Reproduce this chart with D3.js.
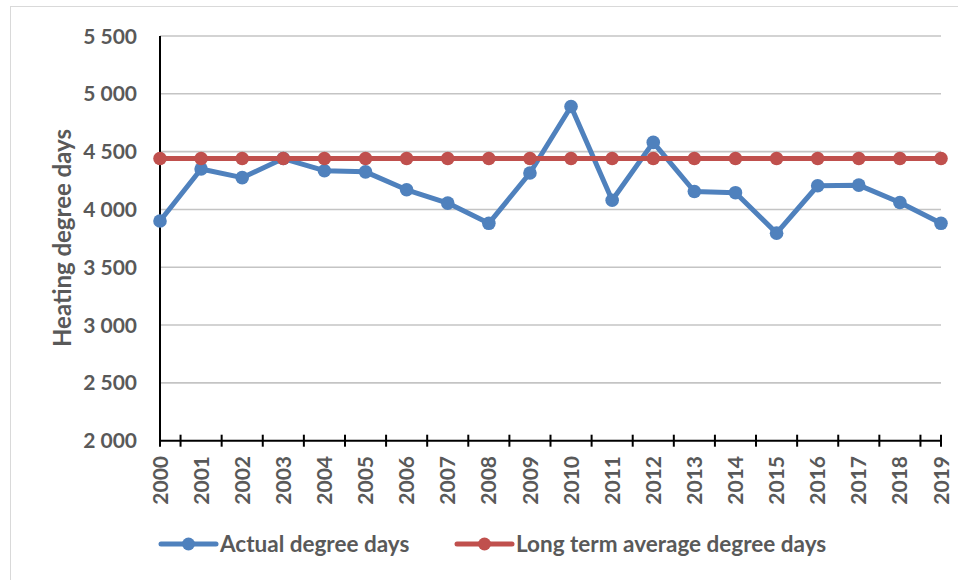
<!DOCTYPE html>
<html>
<head>
<meta charset="utf-8">
<script src="https://cdn.jsdelivr.net/npm/d3@7"></script>
<style>
  body { margin: 0; background: #fff; }
  text { font-family: Lato, "Open Sans", sans-serif; font-weight: 700; fill: #595959; }
</style>
</head>
<body>
<div id="chart"></div>
<script>
var years = ["2000", "2001", "2002", "2003", "2004", "2005", "2006", "2007", "2008", "2009",
	"2010", "2011", "2012", "2013", "2014", "2015", "2016", "2017", "2018", "2019"];
var actual_degree_days = [3900, 4350, 4275, 4440, 4335, 4325, 4170, 4055, 3880, 4315,
	4890, 4080, 4580, 4155, 4145, 3795, 4205, 4210, 4060, 3880];
var long_term_average = [4440, 4440, 4440, 4440, 4440, 4440, 4440, 4440, 4440, 4440,
	4440, 4440, 4440, 4440, 4440, 4440, 4440, 4440, 4440, 4440];
var y_ticks = [2000, 2500, 3000, 3500, 4000, 4500, 5000, 5500];
var series_names = ["Actual degree days", "Long term average degree days"];
var series_colours = ["#4f81bd", "#c0504d"];

var width = 958, height = 580;
var plot = { left: 160, right: 941, top: 36, bottom: 440.7 };

var svg = d3.select("#chart")
	.append("svg")
	.attr("width", width)
	.attr("height", height);

//chart border
svg.append("rect")
	.attr("x", 10.5)
	.attr("y", 6.5)
	.attr("width", width)
	.attr("height", height)
	.style("fill", "none")
	.style("stroke", "#d9d9d9")
	.style("stroke-width", 1);

var x = d3.scalePoint()
	.domain(years)
	.range([plot.left, plot.right]);

var y = d3.scaleLinear()
	.domain([2000, 5500])
	.range([plot.bottom, plot.top]);

var fmt = d3.formatLocale({ decimal: ",", thousands: " ", grouping: [3], currency: ["", ""] }).format(",");

//gridlines
svg.append("g")
	.selectAll("line")
	.data(y_ticks.slice(1))
	.enter()
	.append("line")
	.attr("x1", plot.left)
	.attr("x2", plot.right)
	.attr("y1", function(d){ return y(d); })
	.attr("y2", function(d){ return y(d); })
	.style("stroke", "#c4c4c4")
	.style("stroke-width", 1.6);

//y labels
svg.append("g")
	.selectAll("text")
	.data(y_ticks)
	.enter()
	.append("text")
	.attr("x", 137)
	.attr("y", function(d){ return y(d); })
	.attr("dy", "0.36em")
	.attr("text-anchor", "end")
	.style("font-size", "21px")
	.text(function(d){ return fmt(d); });

//y title
svg.append("text")
	.attr("transform", "translate(71,238) rotate(-90)")
	.attr("text-anchor", "middle")
	.style("font-size", "24px")
	.text("Heating degree days");

//axis lines
svg.append("line")
	.attr("x1", plot.left).attr("x2", plot.left)
	.attr("y1", plot.top).attr("y2", plot.bottom)
	.style("stroke", "#000").style("stroke-width", 2);
svg.append("line")
	.attr("x1", plot.left).attr("x2", plot.right)
	.attr("y1", plot.bottom).attr("y2", plot.bottom)
	.style("stroke", "#000").style("stroke-width", 2);

//x tick marks sit between the years, and at both ends
var step = x.step();
var tick_pos = [plot.left];
years.slice(1).forEach(function(d){ tick_pos.push(x(d) - step / 2); });
tick_pos.push(plot.right);
svg.append("g")
	.selectAll("line")
	.data(tick_pos)
	.enter()
	.append("line")
	.attr("x1", function(d){ return d; })
	.attr("x2", function(d){ return d; })
	.attr("y1", plot.bottom - 6)
	.attr("y2", plot.bottom + 6)
	.style("stroke", "#000")
	.style("stroke-width", 2);

//x labels
svg.append("g")
	.selectAll("text")
	.data(years)
	.enter()
	.append("text")
	.attr("transform", function(d){ return "translate(" + x(d) + ",456) rotate(-90)"; })
	.attr("dy", "0.36em")
	.attr("text-anchor", "end")
	.style("font-size", "21px")
	.text(function(d){ return d; });

//series
var all_series = [actual_degree_days, long_term_average];
var line = d3.line()
	.x(function(d, i){ return x(years[i]); })
	.y(function(d){ return y(d); });

all_series.forEach(function(values, k){
	svg.append("path")
		.datum(values)
		.attr("d", line)
		.style("fill", "none")
		.style("stroke", series_colours[k])
		.style("stroke-width", 5)
		.style("stroke-linejoin", "round");
	svg.append("g")
		.selectAll("circle")
		.data(values)
		.enter()
		.append("circle")
		.attr("cx", function(d, i){ return x(years[i]); })
		.attr("cy", function(d){ return y(d); })
		.attr("r", 6.8)
		.style("fill", series_colours[k]);
});

//legend
var legend_x = [161, 457];
series_names.forEach(function(name, k){
	var g = svg.append("g").attr("transform", "translate(" + legend_x[k] + ",544)");
	g.append("line")
		.attr("x1", 0).attr("x2", 55)
		.style("stroke", series_colours[k])
		.style("stroke-width", 5)
		.style("stroke-linecap", "round");
	g.append("circle")
		.attr("cx", 27.5).attr("r", 6.5)
		.style("fill", series_colours[k]);
	g.append("text")
		.attr("x", 59)
		.attr("dy", "0.36em")
		.style("font-size", "22.5px")
		.text(name);
});
</script>
</body>
</html>
